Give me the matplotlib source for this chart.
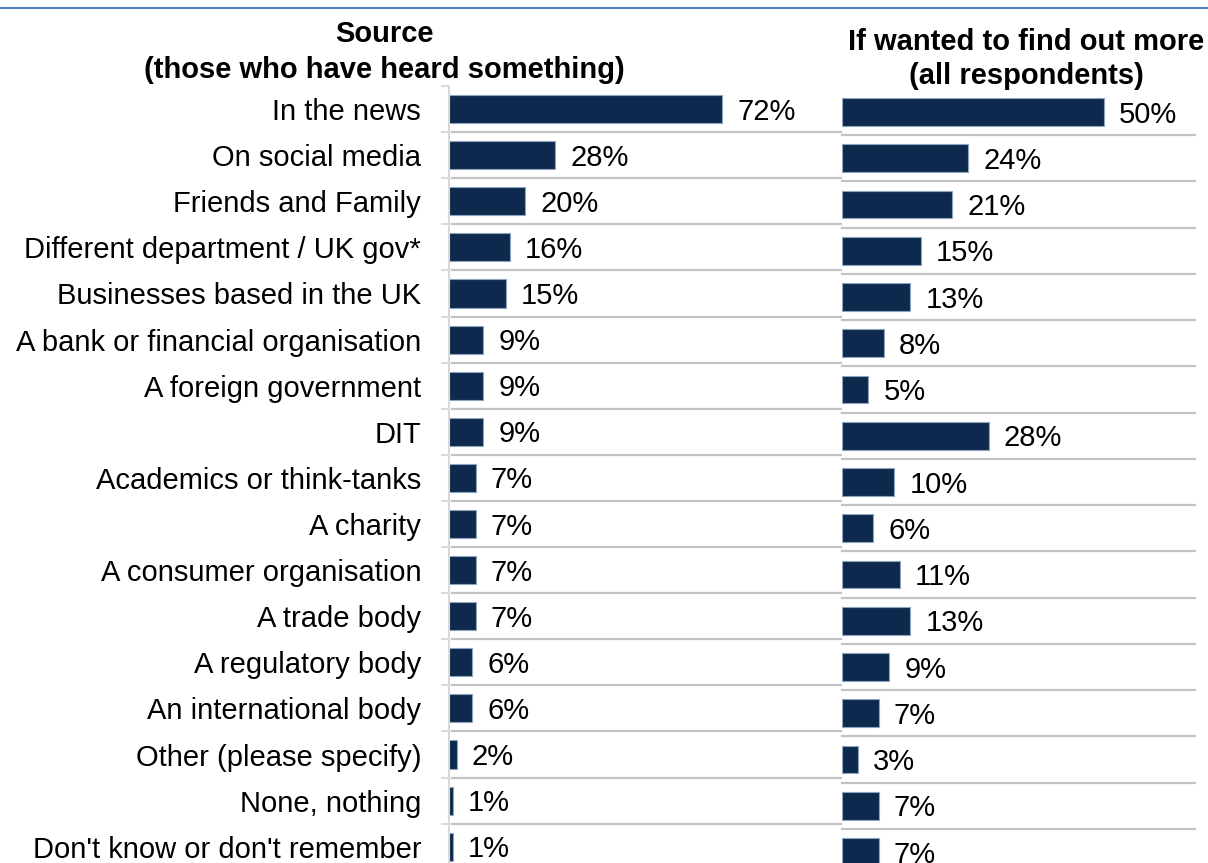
import matplotlib.pyplot as plt
from matplotlib.lines import Line2D

plt.rcParams['font.family'] = ['Liberation Sans', 'DejaVu Sans']

categories = ["In the news", "On social media", "Friends and Family",
              "Different department / UK gov*", "Businesses based in the UK",
              "A bank or financial organisation", "A foreign government", "DIT",
              "Academics or think-tanks", "A charity", "A consumer organisation",
              "A trade body", "A regulatory body", "An international body",
              "Other (please specify)", "None, nothing", "Don't know or don't remember"]
source_pct = [72, 28, 20, 16, 15, 9, 9, 9, 7, 7, 7, 7, 6, 6, 2, 1, 1]
find_more_pct = [50, 24, 21, 15, 13, 8, 5, 28, 10, 6, 11, 13, 9, 7, 3, 7, 7]

NAVY = "#0d2a4e"
EDGE = "#8fa3bd"
GRID = "#c3c3c3"
FS = 21

W, H = 1208, 863
fig = plt.figure(figsize=(W / 100, H / 100), dpi=100)

def px_box(left, top, right, bottom):
    return [left / W, 1 - bottom / H, (right - left) / W, (bottom - top) / H]

n = len(categories)
ypos = list(range(n))

def value_labels(ax, values):
    # baseline sits half a cap height under the bar centre
    for y, v in zip(ypos, values):
        ax.annotate(f"{v}%", (v, y), xytext=(11, -7.6), textcoords="offset points",
                    va="baseline", ha="left", fontsize=FS, color="black")

# left panel: source of information
ax1 = fig.add_axes(px_box(449, 86, 829, 869.8))
ax1.barh(ypos, source_pct, height=0.61, color=NAVY, edgecolor=EDGE, linewidth=0.8)
ax1.set_xlim(0, 380 / 3.79)
ax1.set_ylim(n - 0.5, -0.5)
value_labels(ax1, source_pct)
ax1.set_yticks(ypos)
ax1.set_yticklabels(categories, fontsize=FS)
ax1.tick_params(axis="y", which="major", length=0, pad=20)
ax1.set_yticks([i - 0.5 for i in range(n + 1)], minor=True)
ax1.tick_params(axis="y", which="minor", length=6, width=1.5, color="#d9d9d9")
ax1.set_xticks([])
for s in ["top", "right", "bottom"]:
    ax1.spines[s].set_visible(False)
ax1.spines["left"].set_color("#d9d9d9")
ax1.spines["left"].set_linewidth(1.5)
for i in range(n - 1):
    ax1.axhline(i + 0.5, xmin=0.008, xmax=393 / 380, color=GRID, lw=1.6,
                clip_on=False, zorder=0)

# right panel: where to find out more
ax2 = fig.add_axes(px_box(842, 89, 1208, 875.1))
ax2.barh(ypos, find_more_pct, height=0.6, color=NAVY, edgecolor=EDGE, linewidth=0.8)
ax2.set_xlim(0, 366 / 5.24)
ax2.set_ylim(n - 0.5, -0.5)
value_labels(ax2, find_more_pct)
ax2.set_xticks([])
ax2.set_yticks([])
for s in ax2.spines.values():
    s.set_visible(False)
for i in range(n - 1):
    ax2.axhline(i + 0.5, xmin=0, xmax=353 / 366, color=GRID, lw=1.6,
                clip_on=False, zorder=0)

# panel headings
fig.text(384 / W, 1 - 34 / H, "Source", ha="center", va="center",
         fontsize=FS, fontweight="bold")
fig.text(384 / W, 1 - 70 / H, "(those who have heard something)", ha="center",
         va="center", fontsize=FS, fontweight="bold")
fig.text(1026 / W, 1 - 42 / H, "If wanted to find out more", ha="center",
         va="center", fontsize=FS, fontweight="bold")
fig.text(1026 / W, 1 - 76 / H, "(all respondents)", ha="center",
         va="center", fontsize=FS, fontweight="bold")

# rule across the top
fig.add_artist(Line2D([0, 1], [1 - 8 / H, 1 - 8 / H], color="#4f81bd", lw=1.5))

fig.savefig("out.png", dpi=100)
